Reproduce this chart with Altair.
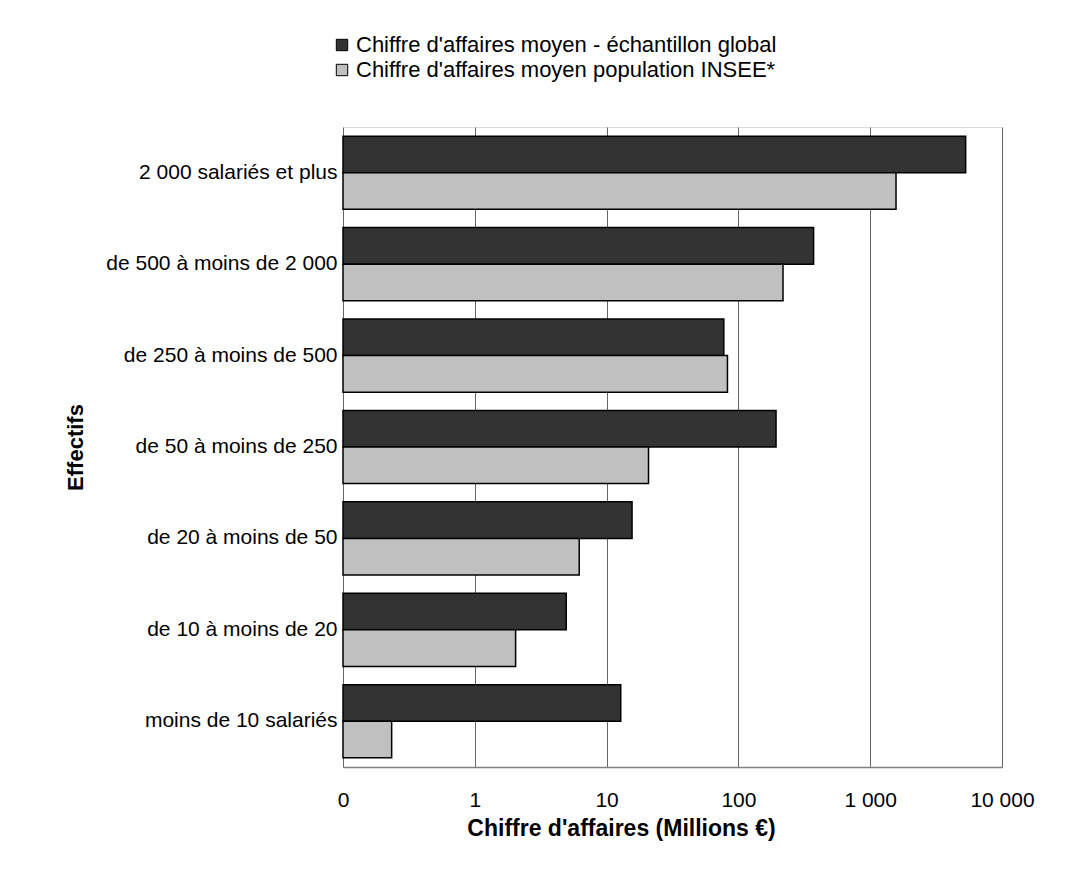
import altair as alt
import pandas as pd

categories = [
    "2 000 salariés et plus",
    "de 500 à moins de 2 000",
    "de 250 à moins de 500",
    "de 50 à moins de 250",
    "de 20 à moins de 50",
    "de 10 à moins de 20",
    "moins de 10 salariés",
]
series = [
    "Chiffre d'affaires moyen - échantillon global",
    "Chiffre d'affaires moyen population INSEE*",
]
global_vals = [5300, 372, 77.5, 193, 15.6, 4.94, 12.8]
insee_vals = [1570, 218, 82.6, 20.8, 6.2, 2.04, 0.234]
tick_values = [0.1, 1, 10, 100, 1000, 10000]
tick_labels = ["0", "1", "10", "100", "1 000", "10 000"]
colors = ["#333333", "#c0c0c0"]

rows = []
for c, g, i in zip(categories, global_vals, insee_vals):
    rows.append({"cat": c, "series": series[0], "value": g})
    rows.append({"cat": c, "series": series[1], "value": i})
df = pd.DataFrame(rows)

label_map = "{" + ",".join(f"'{v}':'{l}'" for v, l in zip(tick_values, tick_labels)) + "}"
label_expr = f"{label_map}[datum.value]"

FONT = "Liberation Sans"

chart = alt.Chart(df).mark_bar(stroke="black", strokeWidth=1.5).encode(
    y=alt.Y(
        "cat:N",
        sort=categories,
        scale=alt.Scale(paddingInner=0.2, paddingOuter=0.1),
        axis=alt.Axis(
            title="Effectifs",
            titleFontSize=22,
            titleFontWeight="bold",
            titleFont=FONT,
            titleColor="black",
            titleAngle=270,
            titleX=-268,
            titleY=320,
            titleBaseline="middle",
            titleAlign="center",
            labelFont=FONT,
            labelFontSize=21,
            labelColor="black",
            labelPadding=6,
            ticks=False,
            domain=False,
            labelLimit=400,
        ),
    ),
    yOffset=alt.YOffset("series:N", sort=series, scale=alt.Scale(paddingInner=0, paddingOuter=0)),
    x=alt.X(
        "value:Q",
        scale=alt.Scale(type="log", domain=[0.1, 10000], nice=False),
        axis=alt.Axis(
            values=tick_values,
            labelExpr=label_expr,
            labelFlush=False,
            title="Chiffre d'affaires (Millions €)",
            titleFontSize=23,
            titleFontWeight="bold",
            titleFont=FONT,
            titleColor="black",
            titleX=278,
            titleY=61,
            titleBaseline="middle",
            titleAlign="center",
            labelFont=FONT,
            labelFontSize=21,
            labelColor="black",
            labelPadding=22,
            labelBaseline="top",
            ticks=False,
            grid=True,
            gridColor="#666666",
            gridWidth=1,
            gridOpacity=1,
            domainColor="#808080",
            domainWidth=1.5,
        ),
    ),
    x2=alt.datum(0.1),
    color=alt.Color(
        "series:N",
        sort=series,
        scale=alt.Scale(domain=series, range=colors),
        legend=alt.Legend(
            title=None,
            orient="none",
            legendX=-12,
            legendY=-93,
            direction="vertical",
            symbolType="square",
            symbolSize=130,
            symbolStrokeColor="black",
            symbolStrokeWidth=1,
            labelFont=FONT,
            labelFontSize=22,
            labelColor="black",
            labelOffset=3,
            rowPadding=3,
            padding=0,
            labelLimit=600,
        ),
    ),
).properties(
    width=659,
    height=640,
    autosize=alt.AutoSizeParams(type="none"),
    padding={"left": 335, "top": 119, "right": 62, "bottom": 99},
).configure_view(
    stroke="#808080",
    strokeWidth=1.5,
).configure(background="white")

chart.save("out.html", embed_options={"renderer": "svg", "actions": False})
